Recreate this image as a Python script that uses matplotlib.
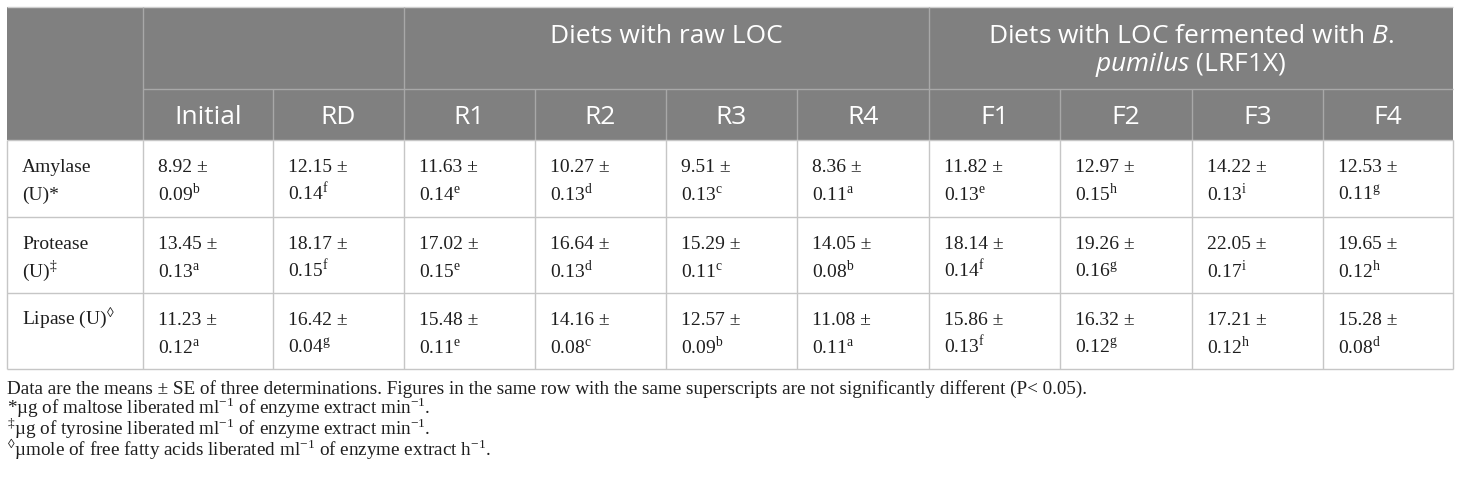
import matplotlib
matplotlib.use('Agg')
import matplotlib.pyplot as plt
from matplotlib.patches import Rectangle

plt.rcParams['mathtext.fontset'] = 'custom'
plt.rcParams['mathtext.rm'] = 'Liberation Serif'
plt.rcParams['mathtext.it'] = 'Open Sans:italic'
plt.rcParams['mathtext.bf'] = 'Liberation Serif:bold'

# ---------------- data ----------------
diets = ['Initial', 'RD', 'R1', 'R2', 'R3', 'R4', 'F1', 'F2', 'F3', 'F4']
group_labels = [
    [],
    ['Diets with raw LOC'],
    ['Diets with LOC fermented with $\\mathit{B.}$', '$\\mathit{pumilus}$ (LRF1X)'],
]
group_spans = [(0, 2), (2, 6), (6, 10)]

row_labels = [
    ['Amylase', '(U)*'],
    ['Protease', '(U)$^{\u2021}$'],
    ['Lipase (U)$^{\u25CA}$'],
]

amylase_mean = [8.92, 12.15, 11.63, 10.27, 9.51, 8.36, 11.82, 12.97, 14.22, 12.53]
amylase_se = [0.09, 0.14, 0.14, 0.13, 0.13, 0.11, 0.13, 0.15, 0.13, 0.11]
amylase_sup = ['b', 'f', 'e', 'd', 'c', 'a', 'e', 'h', 'i', 'g']

protease_mean = [13.45, 18.17, 17.02, 16.64, 15.29, 14.05, 18.14, 19.26, 22.05, 19.65]
protease_se = [0.13, 0.15, 0.15, 0.13, 0.11, 0.08, 0.14, 0.16, 0.17, 0.12]
protease_sup = ['a', 'f', 'e', 'd', 'c', 'b', 'f', 'g', 'i', 'h']

lipase_mean = [11.23, 16.42, 15.48, 14.16, 12.57, 11.08, 15.86, 16.32, 17.21, 15.28]
lipase_se = [0.12, 0.04, 0.11, 0.08, 0.09, 0.11, 0.13, 0.12, 0.12, 0.08]
lipase_sup = ['a', 'g', 'e', 'c', 'b', 'a', 'f', 'g', 'h', 'd']

footnotes = [
    'Data are the means \u00B1 SE of three determinations. Figures in the same row with the same '
    'superscripts are not significantly different (P< 0.05).',
    '*\u00B5g of maltose liberated ml$^{-1}$ of enzyme extract min$^{-1}$.',
    '$^{\u2021}$\u00B5g of tyrosine liberated ml$^{-1}$ of enzyme extract min$^{-1}$.',
    '$^{\u25CA}$\u00B5mole of free fatty acids liberated ml$^{-1}$ of enzyme extract h$^{-1}$.',
]

means = [amylase_mean, protease_mean, lipase_mean]
ses = [amylase_se, protease_se, lipase_se]
sups = [amylase_sup, protease_sup, lipase_sup]

# ---------------- layout ----------------
fig = plt.figure(figsize=(14.6, 4.8), dpi=100)
ax = fig.add_axes([0, 0, 1, 1])
ax.set_xlim(0, 1460)
ax.set_ylim(480, 0)
ax.axis('off')

X = [7, 143, 273, 404, 535, 666, 797, 929, 1060, 1192, 1323, 1453]
Y = [7, 89, 140, 217, 293, 369]
HEAD = '#808080'
HLINE = '#a8a8a8'
BLINE = '#c6c6c6'
TXT = '#1e1e1e'
SANS = 'Open Sans'
SERIF = 'Liberation Serif'


def seg(x0, y0, x1, y1, c, lw=1.0):
    ax.plot([x0, x1], [y0, y1], color=c, lw=lw, solid_capstyle='butt', zorder=2)


ax.add_patch(Rectangle((X[0], Y[0]), X[-1] - X[0], Y[2] - Y[0],
                       facecolor=HEAD, edgecolor='none', zorder=1))

# header lines
seg(X[0], Y[0], X[-1], Y[0], '#cfcfcf')
seg(X[1], Y[1], X[-1], Y[1], HLINE)
for i in (1, 3, 7):
    seg(X[i], Y[0], X[i], Y[2], HLINE)
for i in (2, 4, 5, 6, 8, 9, 10):
    seg(X[i], Y[1], X[i], Y[2], HLINE)

# body lines
for y in Y[2:]:
    seg(X[0], y, X[-1], y, BLINE)
for x in X:
    seg(x, Y[2], x, Y[5], BLINE)

# header text
for lines, (a, b) in zip(group_labels, group_spans):
    cx = (X[a + 1] + X[b + 1]) / 2
    for k, ln in enumerate(lines):
        ax.text(cx, 43 + 28 * k, ln, ha='center', va='baseline', color='white',
                fontsize=19, family=SANS, zorder=3)

for j, d in enumerate(diets):
    cx = (X[j + 1] + X[j + 2]) / 2
    ax.text(cx, 123.5, d, ha='center', va='baseline', color='white',
            fontsize=19, family=SANS, zorder=3)

# body text
pad = 15
for r in range(3):
    top = Y[r + 2]
    for k, ln in enumerate(row_labels[r]):
        ax.text(X[0] + pad, top + 32 + 28 * k, ln, ha='left', va='baseline',
                color=TXT, fontsize=14, family=SERIF, zorder=3)
    for j in range(len(diets)):
        x0 = X[j + 1] + pad
        ax.text(x0, top + 32, f'{means[r][j]:.2f} \u00B1', ha='left', va='baseline',
                color=TXT, fontsize=14, family=SERIF, zorder=3)
        ax.text(x0, top + 60, f'{ses[r][j]:.2f}$^{{\\mathrm{{{sups[r][j]}}}}}$',
                ha='left', va='baseline', color=TXT, fontsize=14, family=SERIF, zorder=3)

# footnotes
for k, ft in enumerate(footnotes):
    ax.text(X[0], 394 + 20.5 * k, ft, ha='left', va='baseline', color=TXT,
            fontsize=13.8, family=SERIF, zorder=3)

fig.savefig('out.png', dpi=100, facecolor='white')
